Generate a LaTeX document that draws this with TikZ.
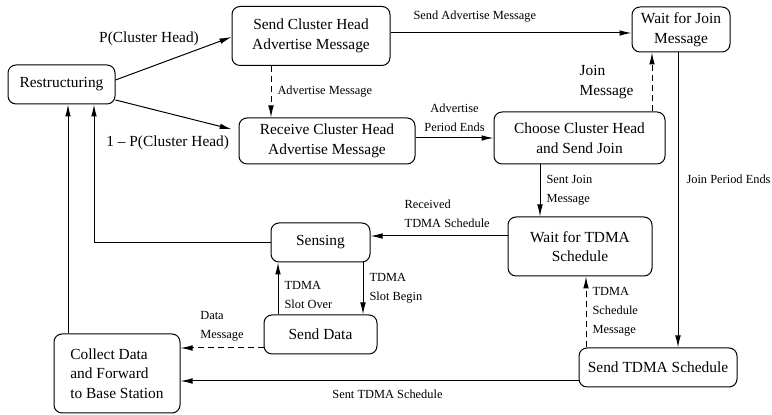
\documentclass[tikz,border=0pt]{standalone}
\usepackage{fontspec}
\setmainfont{Liberation Serif}
\usetikzlibrary{arrows.meta}

\begin{document}
\begin{tikzpicture}[x=0.5pt,y=-0.5pt, line width=0.5pt,
  state/.style={draw,rounded corners=4pt,align=center,inner sep=1pt,font=\fontsize{7.7}{9.8}\selectfont},
  lbl/.style={font=\fontsize{6.2}{9.5}\selectfont,align=left,inner sep=1pt},
  big/.style={font=\fontsize{7.7}{9.8}\selectfont,align=left,inner sep=1pt},
  tr/.style={-{Latex[length=6pt,width=2.8pt]}},
  msg/.style={tr,dash pattern=on 3pt off 2pt}]
\useasboundingbox (0,0) rectangle (772,415);
% states
\node[state,minimum width=53.5pt,minimum height=19.5pt] (restr) at (61.5,84.5) {Restructuring};
\node[state,minimum width=79pt,minimum height=29.5pt] (sendadv) at (311,36) {Send Cluster Head\\Advertise Message};
\node[state,minimum width=88pt,minimum height=23pt] (recvadv) at (327,141) {Receive Cluster Head\\Advertise Message};
\node[state,minimum width=49pt,minimum height=22.5pt] (waitjoin) at (681,29.5) {Wait for Join\\Message};
\node[state,minimum width=85.5pt,minimum height=26pt] (choose) at (579.5,138) {Choose Cluster Head\\and Send Join};
\node[state,minimum width=72pt,minimum height=29.5pt] (waittdma) at (580,246.5) {Wait for TDMA\\Schedule};
\node[state,minimum width=79pt,minimum height=19.5pt] (sendtdma) at (658,367.5) {Send TDMA Schedule};
\node[state,minimum width=49.5pt,minimum height=19.5pt] (sensing) at (320.5,242.5) {Sensing};
\node[state,minimum width=56.5pt,minimum height=19.5pt] (senddata) at (320.5,334.5) {Send Data};
\node[state,align=left,minimum width=63pt,minimum height=39.5pt] (collect) at (117,373.5) {Collect Data\\and Forward\\to Base Station};
% transitions
\draw[tr] (restr.east |- 0,80) -- (sendadv.west |- 0,37)
  node[pos=0.74,anchor=south east,big] {P(Cluster Head)};
\draw[tr,shorten >=3.5pt] (restr.east |- 0,100) -- (recvadv.west |- 0,131)
  node[at end,anchor=north east,xshift=-3.5pt,yshift=-1pt,big] {1 -- P(Cluster Head)};
\draw[msg] (sendadv.south -| 271,0) -- (recvadv.north -| 271,0)
  node[midway,right=2pt,lbl] {Advertise Message};
\draw[tr] (sendadv.east |- 0,33) -- (waitjoin.west |- 0,33)
  node[pos=0.35,above=4pt,lbl] {Send Advertise Message};
\draw[tr] (recvadv.east |- 0,138) -- (choose.west |- 0,138)
  node[midway,above=2pt,lbl,align=center] {Advertise\\Period Ends};
\draw[msg] (choose.north -| 652,0) -- (waitjoin.south -| 652,0)
  node[midway,left=8pt,big] {Join\\Message};
\draw[tr] (waitjoin.south -| 678,0) -- (sendtdma.north -| 678,0)
  node[pos=0.43,right=3pt,lbl] {Join Period Ends};
\draw[tr] (choose.south -| 540,0) -- (waittdma.north -| 540,0)
  node[midway,right=2pt,lbl] {Sent Join\\Message};
\draw[tr] (waittdma.west |- 0,236) -- (sensing.east |- 0,236)
  node[pos=0.44,above=3pt,lbl] {Received\\TDMA Schedule};
\draw[tr] (sensing.west |- 0,243) -| (restr.south -| 94,0);
\draw[tr] (collect.north -| 68,0) -- (restr.south -| 68,0);
\draw[tr] (sensing.south -| 363,0) -- (senddata.north -| 363,0)
  node[midway,right=2pt,lbl] {TDMA\\Slot Begin};
\draw[tr] (senddata.north -| 278,0) -- (sensing.south -| 278,0)
  node[pos=0.38,right=2pt,lbl] {TDMA\\Slot Over};
\draw[msg] (senddata.west |- 0,348) -- (collect.east |- 0,348)
  node[midway,above=2pt,lbl] {Data\\Message};
\draw[tr] (sendtdma.west |- 0,381) -- (collect.east |- 0,381)
  node[pos=0.48,below=3pt,lbl] {Sent TDMA Schedule};
\draw[msg] (sendtdma.north -| 586,0) -- (waittdma.south -| 586,0)
  node[midway,right=2pt,lbl] {TDMA\\Schedule\\Message};
\end{tikzpicture}
\end{document}
